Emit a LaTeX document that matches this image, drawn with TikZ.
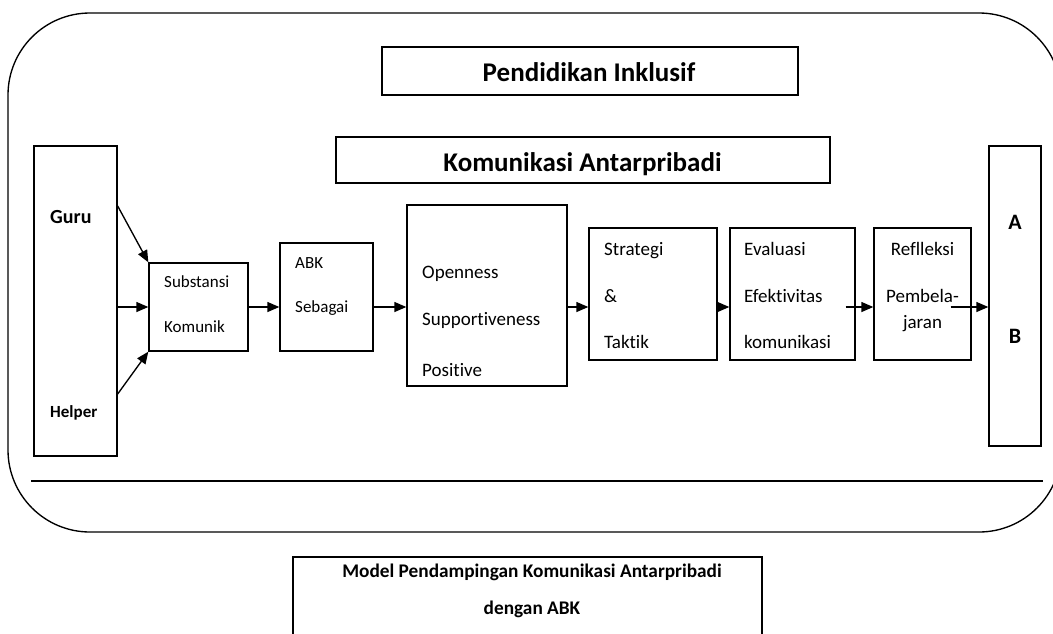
\documentclass[tikz,border=0pt]{standalone}
\usepackage{fontspec}
\setmainfont{Carlito}[Ligatures=NoCommon]
\usetikzlibrary{arrows.meta}
\begin{document}
\begin{tikzpicture}[x=1pt,y=-1pt,
  box/.style={draw,line width=1.35pt,inner sep=0pt},
  arr/.style={line width=1.35pt,-{Triangle[length=12pt,width=10pt]}},
  txt/.style={inner sep=0pt,anchor=base west,font=\fontsize{19}{22}\selectfont},
  stxt/.style={inner sep=0pt,anchor=base west,font=\fontsize{17}{20}\selectfont},
  ctxt/.style={inner sep=0pt,anchor=base,font=\fontsize{19}{22}\selectfont},
  head/.style={inner sep=0pt,anchor=base,font=\bfseries\fontsize{27}{32}\selectfont},
  captxt/.style={inner sep=0pt,anchor=base,font=\bfseries\fontsize{19.3}{22}\selectfont},
]
\useasboundingbox (0,0) rectangle (1053,633);
\clip (0,0) rectangle (1053,633);
% outer rounded frame
\draw[line width=1.35pt,rounded corners=82pt] (8,13) rectangle (1061,532);
\coordinate (l1) at (31,481);
\coordinate (l2) at (1043,481);
\draw[line width=1.35pt] (l1) -- (l2);

% header boxes
\node[box,minimum width=416pt,minimum height=48pt] (pend) at (590,71) {};
\node[head] (pendt) at (589,81.5) {Pendidikan Inklusif};
\node[box,minimum width=494pt,minimum height=46pt] (kom) at (583,160) {};
\node[head] (komt) at (582.5,171.5) {Komunikasi Antarpribadi};

% flow boxes
\node[box,minimum width=83pt,minimum height=310pt] (guru) at (75.5,301) {};
\node[inner sep=0pt,anchor=base west,font=\bfseries\fontsize{20}{24}\selectfont] (gurut) at (50,223) {Guru};
\node[inner sep=0pt,anchor=base west,font=\bfseries\fontsize{17}{20}\selectfont] (helpt) at (50,417) {Helper};

\node[box,minimum width=99pt,minimum height=88pt] (sub) at (198.5,307) {};
\node[stxt] (subt1) at (164,287) {Substansi};
\node[stxt] (subt2) at (164,332) {Komunik};

\node[box,minimum width=93pt,minimum height=108pt] (abk) at (326.5,297) {};
\node[stxt] (abkt1) at (295,268) {ABK};
\node[stxt] (abkt2) at (295,312) {Sebagai};

\node[box,minimum width=160pt,minimum height=181pt] (op) at (487,295.5) {};
\node[txt] (opt1) at (422,278) {Openness};
\node[txt] (opt2) at (422,325) {Supportiveness};
\node[txt] (opt3) at (422,376) {Positive};

\node[box,minimum width=128pt,minimum height=132pt] (st) at (653,294) {};
\node[txt] (stt1) at (604,255) {Strategi};
\node[txt] (stt2) at (604,302) {\&};
\node[txt] (stt3) at (604,348) {Taktik};

\node[box,minimum width=125pt,minimum height=132pt] (ev) at (792.5,294) {};
\node[txt] (evt1) at (744,255) {Evaluasi};
\node[txt] (evt2) at (744,302) {Efektivitas};
\node[txt] (evt3) at (744,348) {komunikasi};

\node[box,minimum width=97pt,minimum height=132pt] (rf) at (922.5,294) {};
\node[ctxt] (rft1) at (922.5,255) {Reflleksi};
\node[ctxt] (rft2) at (922.5,302) {Pembela-};
\node[ctxt] (rft3) at (922.5,328) {jaran};

\node[box,minimum width=52pt,minimum height=300pt] (ab) at (1015,296) {};
\node[inner sep=0pt,anchor=base,font=\bfseries\fontsize{22}{26}\selectfont] (at) at (1015,229) {A};
\node[inner sep=0pt,anchor=base,font=\bfseries\fontsize{22}{26}\selectfont] (bt) at (1015,343) {B};

% caption box (open at bottom)
\node[box,minimum width=469pt,minimum height=90pt] (capbox) at (527.5,602) {};
\node[captxt] (capt1) at (532,577.5) {Model Pendampingan Komunikasi Antarpribadi};
\node[captxt] (capt2) at (532,614.5) {dengan ABK};

% connectors
\coordinate (row) at (0,307);
\coordinate (evs) at ([xshift=-10pt]ev.east |- row);
\coordinate (rfs) at ([xshift=-21pt]rf.east |- row);
\draw[arr] ([yshift=95pt]guru.east) -- (sub.north west);
\draw[arr] (guru.east |- sub.west) -- (sub.west);
\draw[arr] ([yshift=-93pt]guru.east) -- (sub.south west);
\draw[arr] (sub.east |- row) -- (abk.west |- row);
\draw[arr] (abk.east |- row) -- (op.west |- row);
\draw[arr] (op.east |- row) -- (st.west |- row);
\draw[arr] (st.east |- row) -- (ev.west |- row);
\draw[arr] (evs) -- (rf.west |- row);
\draw[arr] (rfs) -- (ab.west |- row);
\end{tikzpicture}
\end{document}
